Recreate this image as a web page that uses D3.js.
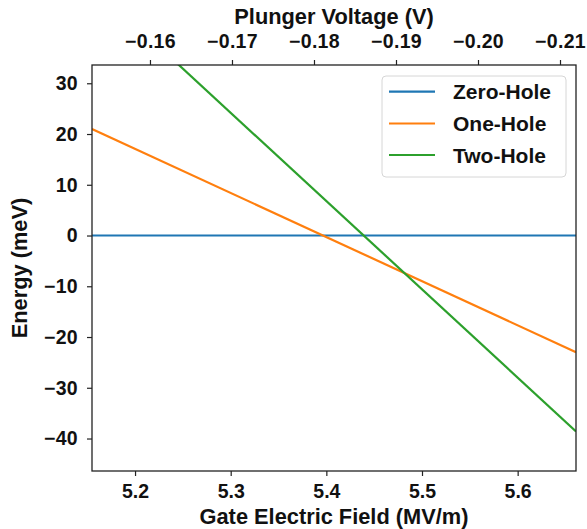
<!DOCTYPE html>
<html>
<head>
<meta charset="utf-8">
<script src="https://cdn.jsdelivr.net/npm/d3@7"></script>
<style>
  body { margin: 0; background: #fff; }
  svg { display: block; font-family: "Liberation Sans", Arial, sans-serif; font-weight: bold; }
</style>
</head>
<body>
<svg id="chart" width="587" height="529"></svg>
<script>
// ---- data ----
const gateField = [5.155, 5.661];            // MV/m (x range of the curves)
const zeroHole = [0, 0];                     // meV
const oneHole = [21.0, -23.0];               // meV
const twoHole = [49.4, -38.6];               // meV
const seriesNames = ["Zero-Hole", "One-Hole", "Two-Hole"];
const seriesColors = ["#1f77b4", "#ff7f0e", "#2ca02c"];
const bottomTicks = [5.2, 5.3, 5.4, 5.5, 5.6];
const leftTicks = [30, 20, 10, 0, -10, -20, -30, -40];
const topTicks = [-0.16, -0.17, -0.18, -0.19, -0.20, -0.21];
const xDomain = [5.155, 5.661];
const yDomain = [-46.4, 33.6];
const plungerDomain = [-0.15293, -0.21195];

// ---- layout ----
const svg = d3.select("#chart");
const L = 92, R = 576, T = 65, B = 471;

const x = d3.scaleLinear().domain(xDomain).range([L, R]);
const y = d3.scaleLinear().domain(yDomain).range([B, T]);
const xTop = d3.scaleLinear().domain(plungerDomain).range([L, R]);

const minusFmt = f => v => f(v).replace("-", "\u2212");

svg.append("defs").append("clipPath").attr("id", "clip")
  .append("rect").attr("x", L).attr("y", T).attr("width", R - L).attr("height", B - T);

// lines
const series = [zeroHole, oneHole, twoHole];
const line = d3.line().x(d => x(d[0])).y(d => y(d[1]));
const g = svg.append("g").attr("clip-path", "url(#clip)");
series.forEach((vals, i) => {
  g.append("path")
    .datum(gateField.map((gf, j) => [gf, vals[j]]))
    .attr("d", line)
    .attr("fill", "none")
    .attr("stroke", seriesColors[i])
    .attr("stroke-width", 2.2);
});

// axes
const tickFont = 19.5;
const bottomAxis = svg.append("g").attr("transform", `translate(0,${B})`)
  .call(d3.axisBottom(x).tickValues(bottomTicks).tickFormat(d3.format(".1f")).tickSize(5).tickPadding(8).tickSizeOuter(0));
const leftAxis = svg.append("g").attr("transform", `translate(${L},0)`)
  .call(d3.axisLeft(y).tickValues(leftTicks).tickFormat(minusFmt(d3.format("d"))).tickSize(5).tickPadding(9).tickSizeOuter(0));
const topAxis = svg.append("g").attr("transform", `translate(0,${T})`)
  .call(d3.axisTop(xTop).tickValues(topTicks).tickFormat(minusFmt(d3.format(".2f"))).tickSize(5).tickPadding(12).tickSizeOuter(0));

[bottomAxis, leftAxis, topAxis].forEach(a => {
  a.select(".domain").remove();
  a.selectAll("line").attr("stroke", "#222").attr("stroke-width", 1.2);
  a.selectAll("text").attr("fill", "#111").attr("font-size", tickFont)
    .attr("font-family", "'Liberation Sans', Arial, sans-serif").attr("font-weight", "bold");
});
// wider minus glyph spacing like the reference
[leftAxis, topAxis].forEach(a => a.selectAll("text").attr("letter-spacing", 0.3));

// frame
svg.append("rect").attr("x", L).attr("y", T).attr("width", R - L).attr("height", B - T)
  .attr("fill", "none").attr("stroke", "#222").attr("stroke-width", 1.3);

// axis titles
const titleFont = 21.8;
svg.append("text").attr("x", (L + R) / 2).attr("y", 524).attr("text-anchor", "middle")
  .attr("font-size", titleFont).attr("fill", "#111").text("Gate Electric Field (MV/m)");
svg.append("text").attr("x", (L + R) / 2).attr("y", 24).attr("text-anchor", "middle")
  .attr("font-size", titleFont).attr("fill", "#111").text("Plunger Voltage (V)");
svg.append("text").attr("transform", `translate(27,${(T + B) / 2}) rotate(-90)`).attr("text-anchor", "middle")
  .attr("font-size", titleFont).attr("fill", "#111").text("Energy (meV)");

// legend
const leg = svg.append("g");
leg.append("rect").attr("x", 382).attr("y", 76).attr("width", 184).attr("height", 101)
  .attr("rx", 4).attr("fill", "#fff").attr("fill-opacity", 0.8)
  .attr("stroke", "#d6d6d6").attr("stroke-width", 1);
const rowY = [91.7, 123.5, 155];
seriesNames.forEach((name, i) => {
  leg.append("line").attr("x1", 389).attr("x2", 435).attr("y1", rowY[i]).attr("y2", rowY[i])
    .attr("stroke", seriesColors[i]).attr("stroke-width", 2.2);
  leg.append("text").attr("x", 453).attr("y", rowY[i]).attr("dy", "0.36em")
    .attr("font-size", 21).attr("fill", "#111").text(name);
});
</script>
</body>
</html>
